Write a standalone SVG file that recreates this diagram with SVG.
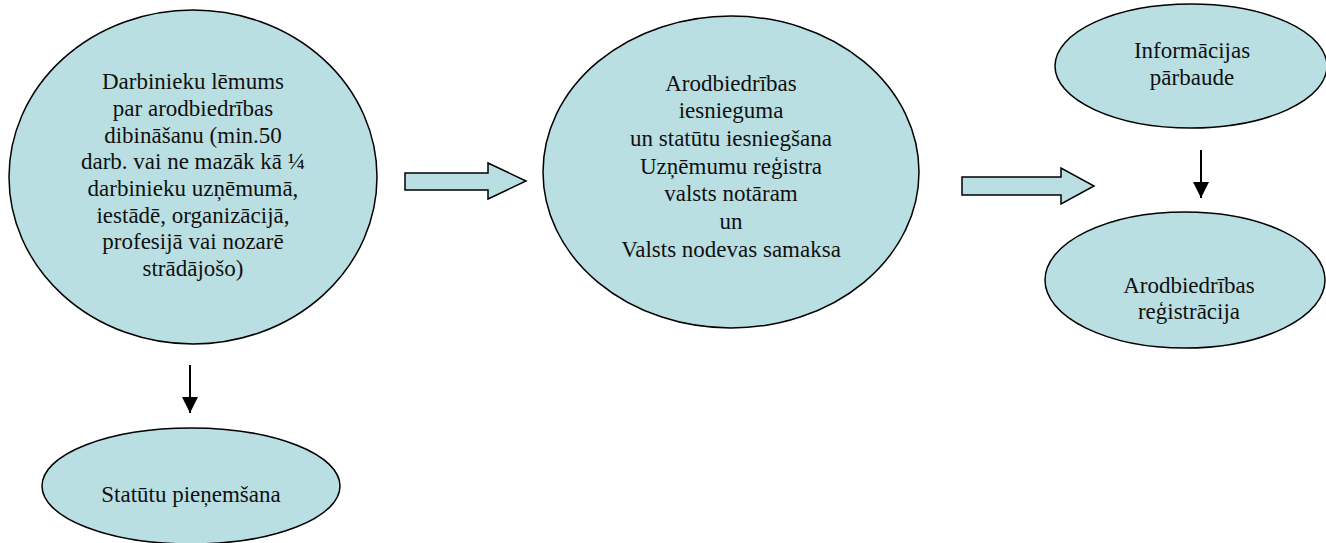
<svg xmlns="http://www.w3.org/2000/svg" width="1326" height="543" viewBox="0 0 1326 543">
<style>
.node{fill:#B9DFE3;stroke:#000;stroke-width:1.5}
.t{font-family:'Liberation Serif','DejaVu Serif','Times New Roman',serif;font-size:23px;fill:#111;text-anchor:middle}
.blk{fill:#B9DFE3;stroke:#000;stroke-width:1.5;stroke-linejoin:miter}
.ln{stroke:#000;stroke-width:2;fill:none}
</style>
<defs>
<marker id="ah" markerWidth="16" markerHeight="16" viewBox="0 0 16 16" refX="16" refY="8" orient="auto" markerUnits="userSpaceOnUse">
<path d="M0,0 L16,8 L0,16 Z" fill="#000"/>
</marker>
</defs>
<rect width="1326" height="543" fill="#fff"/>
<g id="node-lemums" font-family="Liberation Serif, DejaVu Serif, serif">
<ellipse class="node" cx="193" cy="177" rx="184" ry="167"/>
<text class="t" x="193" y="89">Darbinieku lēmums</text>
<text class="t" x="193" y="116">par arodbiedrības</text>
<text class="t" x="193" y="143">dibināšanu (min.50</text>
<text class="t" x="193" y="169">darb. vai ne mazāk kā ¼</text>
<text class="t" x="193" y="196">darbinieku uzņēmumā,</text>
<text class="t" x="193" y="223">iestādē, organizācijā,</text>
<text class="t" x="193" y="249">profesijā vai nozarē</text>
<text class="t" x="193" y="276">strādājošo)</text>
</g>
<g id="node-iesniegsana" font-family="Liberation Serif, DejaVu Serif, serif">
<ellipse class="node" cx="731" cy="172" rx="188" ry="156"/>
<text class="t" x="731" y="91">Arodbiedrības</text>
<text class="t" x="731" y="118">iesnieguma</text>
<text class="t" x="731" y="146">un statūtu iesniegšana</text>
<text class="t" x="731" y="174">Uzņēmumu reģistra</text>
<text class="t" x="731" y="201">valsts notāram</text>
<text class="t" x="731" y="229">un</text>
<text class="t" x="731" y="257">Valsts nodevas samaksa</text>
</g>
<g id="node-parbaude" font-family="Liberation Serif, DejaVu Serif, serif">
<ellipse class="node" cx="1191" cy="66" rx="136" ry="62"/>
<text class="t" x="1192" y="58">Informācijas</text>
<text class="t" x="1192" y="85">pārbaude</text>
</g>
<g id="node-registracija" font-family="Liberation Serif, DejaVu Serif, serif">
<ellipse class="node" cx="1185" cy="280" rx="140" ry="68"/>
<text class="t" x="1189" y="293">Arodbiedrības</text>
<text class="t" x="1189" y="319">reģistrācija</text>
</g>
<g id="node-statuti" font-family="Liberation Serif, DejaVu Serif, serif">
<ellipse class="node" cx="191" cy="486" rx="149" ry="58"/>
<text class="t" x="191" y="502">Statūtu pieņemšana</text>
</g>
<g id="connectors">
<path class="blk" d="M405,173 L488,173 L488,163 L526,181 L488,199 L488,190 L405,190 Z"/>
<path class="blk" d="M962,177 L1061,177 L1061,168 L1094,186 L1061,204 L1061,195 L962,195 Z"/>
<line class="ln" x1="190" y1="365" x2="190" y2="413" marker-end="url(#ah)"/>
<line class="ln" x1="1201" y1="150" x2="1201" y2="198" marker-end="url(#ah)"/>
</g>
</svg>
